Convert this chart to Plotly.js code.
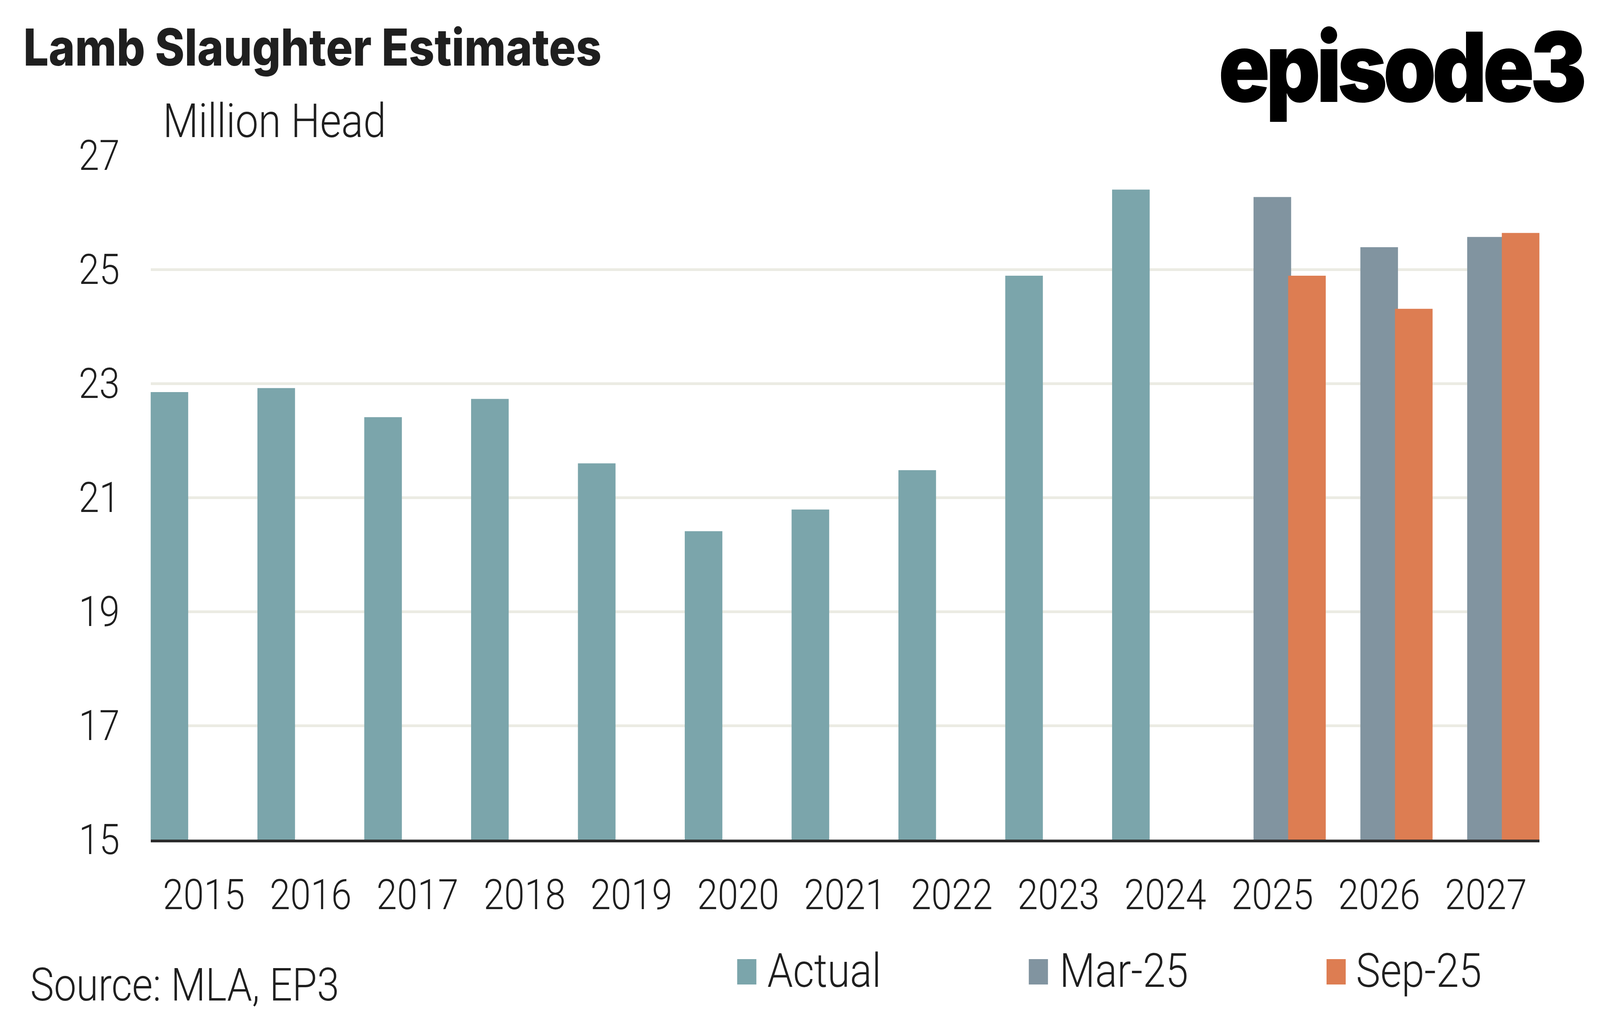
<!DOCTYPE html>
<html>
<head>
<meta charset="utf-8">
<script src="https://cdn.plot.ly/plotly-3.0.1.min.js"></script>
<style>
  html, body { margin: 0; padding: 0; background: #ffffff; overflow: hidden; }
  #chart { position: absolute; left: 0; top: 0; width: 4675px; height: 2594px; transform-origin: 0 0; }
</style>
</head>
<body>
<div id="chart"></div>
<script>
// ---- data ----
const years = ['2015','2016','2017','2018','2019','2020','2021','2022','2023','2024','2025','2026','2027'];
const actualYears = ['2015','2016','2017','2018','2019','2020','2021','2022','2023','2024'];
const actualValues = [22.85, 22.92, 22.41, 22.73, 21.60, 20.41, 20.79, 21.48, 24.89, 26.40];
const forecastYears = ['2025','2026','2027'];
const mar25Values = [26.27, 25.39, 25.57];
const sep25Values = [24.89, 24.31, 25.64];
const seriesNames = ['Actual', 'Mar-25', 'Sep-25'];
const seriesColors = ['#7BA5AB', '#8194A0', '#DD7D52'];
const yTicks = [15, 17, 19, 21, 23, 25, 27];

// ---- geometry: drawn at the reference size, then fitted to the window ----
const W = 4675, H = 2594;
const M = { l: 440, r: 177, t: 398, b: 444, pad: 0 };
const PW = W - M.l - M.r, PH = H - M.t - M.b;
const px = x => (x - M.l) / PW;
const py = y => (H - M.b - y) / PH;

const vw = window.innerWidth || W, vh = window.innerHeight || H;
document.getElementById('chart').style.transform = 'scale(' + (vw / W) + ',' + (vh / H) + ')';

const TXT = '#1F1F1F';
const FONT = 'Roboto, "Open Sans", sans-serif';
const BOLD = 'Inter, "Noto Sans", sans-serif';

const barW = 0.352;
const traces = [
  { type: 'bar', name: seriesNames[0], x: actualYears, y: actualValues,
    marker: { color: seriesColors[0], line: { width: 0 } }, width: barW, offset: -0.5 },
  { type: 'bar', name: seriesNames[1], x: forecastYears, y: mar25Values,
    marker: { color: seriesColors[1], line: { width: 0 } }, width: barW, offset: -0.176 },
  { type: 'bar', name: seriesNames[2], x: forecastYears, y: sep25Values,
    marker: { color: seriesColors[2], line: { width: 0 } }, width: barW, offset: 0.5 - barW }
];

// custom legend
const legendItems = [
  { sx: 2154, tx: 2240 },
  { sx: 3006, tx: 3094 },
  { sx: 3876, tx: 3960 }
];
const shapes = legendItems.map((it, i) => ({
  type: 'rect', xref: 'paper', yref: 'paper',
  x0: px(it.sx), x1: px(it.sx + 56), y0: py(2521), y1: py(2456),
  fillcolor: seriesColors[i], line: { width: 0 }, layer: 'above'
}));

const tickFont = { family: FONT, size: 108, color: TXT, weight: 300 };

const annotations = [
  { text: 'Lamb Slaughter Estimates', xref: 'paper', yref: 'paper', x: px(66), y: py(121),
    xanchor: 'left', yanchor: 'middle', showarrow: false,
    font: { family: BOLD, size: 131, color: TXT, weight: 800 } },
  { text: 'Million Head', xref: 'paper', yref: 'paper', x: px(474), y: py(310),
    xanchor: 'left', yanchor: 'middle', showarrow: false,
    font: { family: FONT, size: 120, color: TXT, weight: 300 } },
  { text: 'episode3', xref: 'paper', yref: 'paper', x: px(4092), y: py(171),
    xanchor: 'center', yanchor: 'middle', showarrow: false,
    font: { family: BOLD, size: 248, color: '#000000', weight: 900 } },
  { text: 'Source: MLA, EP3', xref: 'paper', yref: 'paper', x: px(86), y: py(2522),
    xanchor: 'left', yanchor: 'middle', showarrow: false,
    font: { family: FONT, size: 117, color: TXT, weight: 300 } }
].concat(legendItems.map((it, i) => ({
  text: seriesNames[i], xref: 'paper', yref: 'paper', x: px(it.tx), y: py(2486),
  xanchor: 'left', yanchor: 'middle', showarrow: false,
  font: { family: FONT, size: 120, color: TXT, weight: 300 }
}))).concat(yTicks.map(v => ({
  text: String(v), xref: 'paper', yref: 'y', x: px(352), y: v,
  xanchor: 'right', yanchor: 'middle', showarrow: false, font: tickFont
}))).concat(years.map((yr, i) => ({
  text: yr, xref: 'x', yref: 'paper', x: i, y: py(2291),
  xanchor: 'center', yanchor: 'middle', showarrow: false, font: tickFont
})));

const layout = {
  width: W, height: H,
  margin: M,
  paper_bgcolor: '#ffffff', plot_bgcolor: '#ffffff',
  barmode: 'overlay',
  showlegend: false,
  xaxis: {
    type: 'category', categoryorder: 'array', categoryarray: years,
    range: [-0.5, years.length - 0.5],
    showline: true, linecolor: '#2B2B2B', linewidth: 7,
    showgrid: false, zeroline: false, ticks: '', showticklabels: false
  },
  yaxis: {
    range: [15, 27], tickmode: 'array', tickvals: yTicks,
    showgrid: true, gridcolor: '#EBEBE3', gridwidth: 7,
    zeroline: false, showline: false, ticks: '', showticklabels: false
  },
  shapes: shapes,
  annotations: annotations
};

Plotly.newPlot('chart', traces, layout, { displayModeBar: false, staticPlot: true }).then(gd => {
  // tighten the logo word-mark
  gd.querySelectorAll('.annotation-text').forEach(t => {
    if (t.textContent === 'episode3') t.style.letterSpacing = '-12px';
  });
});
</script>
</body>
</html>
